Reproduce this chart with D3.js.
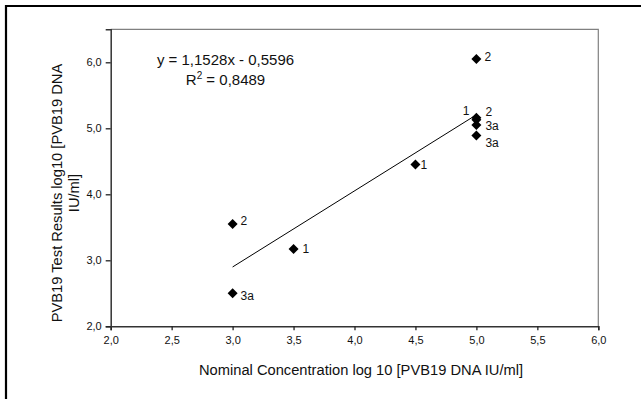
<!DOCTYPE html>
<html>
<head>
<meta charset="utf-8">
<script src="https://cdn.jsdelivr.net/npm/d3@7"></script>
<style>
  html, body { margin: 0; padding: 0; background: #fff; }
  svg { display: block; font-family: "Liberation Sans", Arial, sans-serif; }
</style>
</head>
<body>
<div id="chart"></div>
<script>
// nominal concentration (x) vs. measured result (y), log10 IU/ml
const nominal = [3.0, 3.0, 3.5, 4.5, 5.0, 5.0, 5.0, 5.0, 5.0];
const measured = [3.55, 2.50, 3.17, 4.45, 6.05, 5.16, 5.13, 5.05, 4.89];
const sampleLabels = ["2", "3a", "1", "1", "2", "1", "2", "3a", "3a"];

// linear fit shown on the chart
const fitSlope = 1.1528;
const fitIntercept = -0.5596;
const fitR2 = 0.8489;
const fitRange = [3.0, 5.0];

const xTicks = [2.0, 2.5, 3.0, 3.5, 4.0, 4.5, 5.0, 5.5, 6.0];
const yTicks = [2.0, 3.0, 4.0, 5.0, 6.0];

const xTitle = "Nominal Concentration log 10 [PVB19 DNA IU/ml]";
const yTitle = ["PVB19 Test Results log10 [PVB19 DNA", "IU/ml]"];

// label placement next to each marker (dx, dy, anchor)
const labelNudge = [
  [8, -3, "start"], [8, 2, "start"], [9, 0, "start"], [5, 0, "start"],
  [8, -2, "start"], [-7, -7, "end"], [9, -8, "start"], [9, 1, "start"], [9, 7, "start"]
];

const width = 641, height = 399;
const plot = { left: 110.7, right: 598.3, top: 29.3, bottom: 326.3 };

const comma = d3.formatLocale({ decimal: ",", thousands: ".", grouping: [3], currency: ["", ""] });
const fmt1 = comma.format(".1f");
const fmt4 = comma.format(".4f");

const svg = d3.select("#chart").append("svg")
  .attr("width", width)
  .attr("height", height);

// outer frame (top + left visible)
svg.append("path")
  .attr("d", `M6,${height} L6,6 L${width},6`)
  .attr("fill", "none")
  .attr("stroke", "#000")
  .attr("stroke-width", 2.2);

const x = d3.scaleLinear().domain([2, 6]).range([plot.left, plot.right]);
const y = d3.scaleLinear().domain([2, 6.5]).range([plot.bottom, plot.top]);

// plot area border
svg.append("path")
  .attr("d", `M${plot.left},${plot.top} L${plot.right},${plot.top} L${plot.right},${plot.bottom}`)
  .attr("fill", "none")
  .attr("stroke", "#808080")
  .attr("stroke-width", 1.2);

const xAxis = svg.append("g")
  .attr("transform", `translate(0,${plot.bottom})`)
  .call(d3.axisBottom(x).tickValues(xTicks).tickFormat(fmt1).tickSize(4).tickPadding(6));

const yAxis = svg.append("g")
  .attr("transform", `translate(${plot.left},0)`)
  .call(d3.axisLeft(y).tickValues(yTicks).tickFormat(fmt1).tickSize(5).tickPadding(4));

[xAxis, yAxis].forEach(g => {
  g.select(".domain").attr("stroke", "#333").attr("stroke-width", 1.5);
  g.selectAll(".tick line").attr("stroke", "#222").attr("stroke-width", 1.3);
  g.selectAll(".tick text")
    .attr("fill", "#111")
    .style("font-size", "11px")
    .style("font-family", "'Liberation Sans', Arial, sans-serif");
});

// regression line
svg.append("line")
  .attr("x1", x(fitRange[0]))
  .attr("y1", y(fitSlope * fitRange[0] + fitIntercept))
  .attr("x2", x(fitRange[1]))
  .attr("y2", y(fitSlope * fitRange[1] + fitIntercept))
  .attr("stroke", "#000")
  .attr("stroke-width", 1);

// markers
const diamond = d3.symbol().type(d3.symbolSquare).size(50);
svg.append("g")
  .selectAll("path")
  .data(nominal)
  .join("path")
  .attr("d", diamond)
  .attr("transform", (d, i) => `translate(${x(d)},${y(measured[i])}) rotate(45)`)
  .attr("fill", "#000");

// sample labels
svg.append("g")
  .selectAll("text")
  .data(nominal)
  .join("text")
  .attr("x", (d, i) => x(d) + labelNudge[i][0])
  .attr("y", (d, i) => y(measured[i]) + labelNudge[i][1])
  .attr("dy", "0.35em")
  .attr("text-anchor", (d, i) => labelNudge[i][2])
  .attr("fill", "#111")
  .style("font-size", "12px")
  .text((d, i) => sampleLabels[i]);

// equation
svg.append("text")
  .attr("x", 225.5)
  .attr("y", 65)
  .attr("text-anchor", "middle")
  .attr("fill", "#111")
  .style("font-size", "15px")
  .text(`y = ${fmt4(fitSlope)}x - ${fmt4(-fitIntercept)}`);

const r2 = svg.append("text")
  .attr("x", 225.5)
  .attr("y", 85)
  .attr("text-anchor", "middle")
  .attr("fill", "#111")
  .style("font-size", "15px");
r2.append("tspan").text("R");
r2.append("tspan").attr("dy", -6).style("font-size", "10px").text("2");
r2.append("tspan").attr("dy", 6).text(` = ${fmt4(fitR2)}`);

// axis titles
svg.append("text")
  .attr("x", 361)
  .attr("y", 375)
  .attr("text-anchor", "middle")
  .attr("fill", "#111")
  .style("font-size", "14.7px")
  .text(xTitle);

const yt = svg.append("text")
  .attr("transform", "translate(62,193) rotate(-90)")
  .attr("text-anchor", "middle")
  .attr("fill", "#111")
  .style("font-size", "14.7px");
yTitle.forEach((line, i) => {
  yt.append("tspan").attr("x", 0).attr("y", i * 17).text(line);
});
</script>
</body>
</html>
